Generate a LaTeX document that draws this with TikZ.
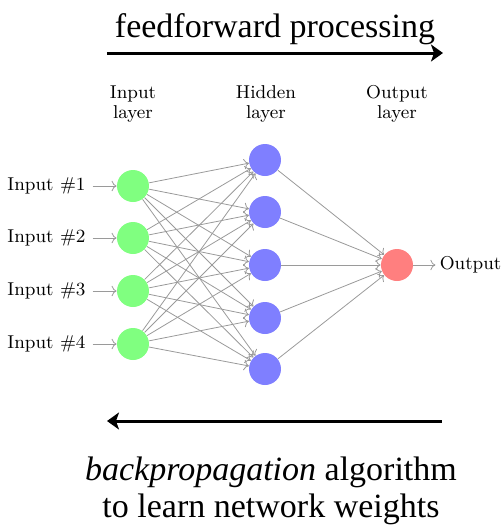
\documentclass[tikz,border=0pt]{standalone}
\usepackage{fontspec}
\newfontfamily\capfont{Liberation Serif}
\usetikzlibrary{positioning,arrows.meta}
\definecolor{incol}{HTML}{80FF80}
\definecolor{hidcol}{HTML}{7F7FFF}
\definecolor{outcol}{HTML}{FF7F7F}
\definecolor{edgecol}{HTML}{9A9A9A}

\begin{document}
\begin{tikzpicture}[x=0.5pt,y=-0.5pt,
      neuron/.style={circle,minimum size=16pt,inner sep=0pt},
      inn/.style={neuron,fill=incol},
      hid/.style={neuron,fill=hidcol},
      outn/.style={neuron,fill=outcol},
      lbl/.style={font=\fontsize{9.3}{10}\selectfont,align=center},
      conn/.style={-{To[length=2.5pt]},draw=edgecol,line width=0.4pt},
      flow/.style={-{Stealth[length=6pt,width=8.5pt,inset=1.5pt]},line width=1.5pt},
      big/.style={font=\capfont\fontsize{17}{18.5}\selectfont,align=center}]

    \useasboundingbox (0,0) rectangle (503,527);

    % neurons
    \node[inn] (in1) at (133,186) {};
    \node[inn] (in2) at (133,238) {};
    \node[inn] (in3) at (133,291) {};
    \node[inn] (in4) at (133,344) {};

    \node[hid] (hid1) at (265,160) {};
    \node[hid] (hid2) at (265,212) {};
    \node[hid] (hid3) at (265,265) {};
    \node[hid] (hid4) at (265,318) {};
    \node[hid] (hid5) at (265,369) {};

    \node[outn] (out) at (397,265) {};

    \foreach \i in {1,...,4}
      \foreach \j in {1,...,5}
        \draw[conn] (in\i) -- (hid\j);
    \foreach \j in {1,...,5}
      \draw[conn] (hid\j) -- (out);

    % inputs and output
    \node[lbl,left=12pt of in1] (x1) {Input \#1};
    \node[lbl,left=12pt of in2] (x2) {Input \#2};
    \node[lbl,left=12pt of in3] (x3) {Input \#3};
    \node[lbl,left=12pt of in4] (x4) {Input \#4};
    \node[lbl,inner sep=2pt,right=11pt of out] (y) {Output};
    \draw[conn] (x1) -- (in1);
    \draw[conn] (x2) -- (in2);
    \draw[conn] (x3) -- (in3);
    \draw[conn] (x4) -- (in4);
    \draw[conn] (out) -- (y);

    \node[lbl] (inlay) at (133,104) {Input\\layer};
    \node[lbl] (hidlay) at (266,104) {Hidden\\layer};
    \node[lbl] (outlay) at (397,104) {Output\\layer};

    % forward and backward
    \node[big,anchor=base] (ff) at (275,37) {feedforward processing};
    \coordinate (ffL) at (107,53);
    \coordinate (ffR) at (443,53);
    \draw[flow] (ffL) -- (ffR);

    \coordinate (bpR) at (442,421);
    \coordinate (bpL) at (107,421);
    \draw[flow] (bpR) -- (bpL);
    \node[big,anchor=base] (bp) at (271,517)
      {\textit{backpropagation} algorithm\\to learn network weights};
  \end{tikzpicture}
\end{document}
